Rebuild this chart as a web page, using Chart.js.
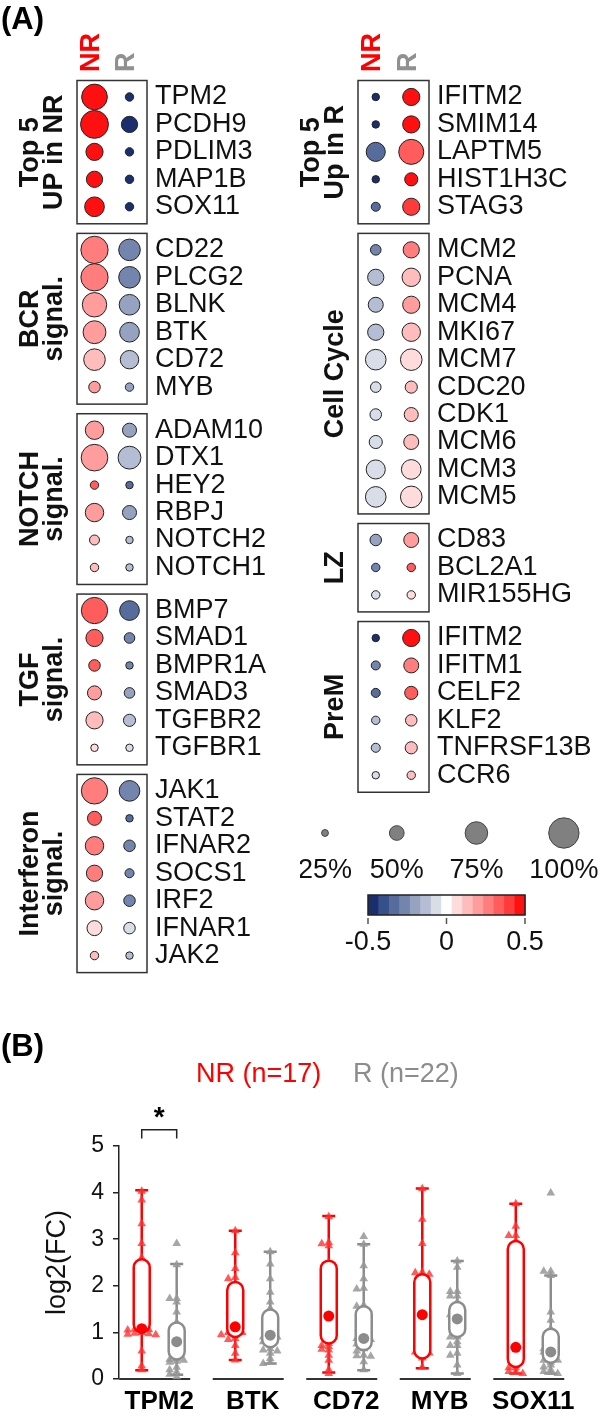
<!DOCTYPE html>
<html>
<head>
<meta charset="utf-8">
<script src="https://cdn.jsdelivr.net/npm/chart.js@4.4.0/dist/chart.umd.min.js"></script>
<style>
html, body { margin: 0; padding: 0; background: #fff; }
#page { position: relative; width: 604px; height: 1421px; overflow: hidden; background: #fff; }
canvas { position: absolute; }
</style>
</head>
<body>
<div id="page">
  <canvas id="dotLeft" width="300" height="990" style="left:0;top:0;width:300px;height:990px"></canvas>
  <canvas id="dotRight" width="304" height="990" style="left:300px;top:0;width:304px;height:990px"></canvas>
  <canvas id="boxChart" width="604" height="421" style="left:0;top:1000px;width:604px;height:421px"></canvas>
</div>
<script>
// ---- (A) dot plot data ----
const leftTitles = [['Top 5', 'UP in NR'], ['BCR', 'signal.'], ['NOTCH', 'signal.'], ['TGF', 'signal.'], ['Interferon', 'signal.']];
const leftGenes = [
  ['TPM2', 'PCDH9', 'PDLIM3', 'MAP1B', 'SOX11'],
  ['CD22', 'PLCG2', 'BLNK', 'BTK', 'CD72', 'MYB'],
  ['ADAM10', 'DTX1', 'HEY2', 'RBPJ', 'NOTCH2', 'NOTCH1'],
  ['BMP7', 'SMAD1', 'BMPR1A', 'SMAD3', 'TGFBR2', 'TGFBR1'],
  ['JAK1', 'STAT2', 'IFNAR2', 'SOCS1', 'IRF2', 'IFNAR1', 'JAK2']
];
const leftPctNR = [[85, 92, 58, 55, 66], [90, 90, 81, 76, 72, 40], [62, 88, 30, 62, 35, 30], [87, 58, 40, 48, 58, 27], [87, 48, 62, 55, 62, 51, 30]];
const leftPctR = [[30, 55, 30, 30, 30], [72, 72, 69, 66, 62, 30], [48, 76, 27, 48, 27, 27], [66, 37, 27, 37, 42, 27], [69, 27, 40, 32, 40, 40, 27]];
const leftFcNR = [[0.5, 0.5, 0.5, 0.5, 0.5], [0.27, 0.27, 0.2, 0.2, 0.14, 0.2], [0.2, 0.2, 0.36, 0.2, 0.13, 0.13], [0.36, 0.33, 0.36, 0.2, 0.14, 0.05], [0.27, 0.33, 0.27, 0.27, 0.2, 0.07, 0.14]];
const leftFcR = [[-0.5, -0.5, -0.5, -0.5, -0.5], [-0.27, -0.27, -0.2, -0.2, -0.14, -0.2], [-0.2, -0.14, -0.33, -0.2, -0.13, -0.13], [-0.33, -0.3, -0.3, -0.2, -0.14, -0.05], [-0.27, -0.33, -0.27, -0.3, -0.27, -0.07, -0.14]];

const rightTitles = [['Top 5', 'Up in R'], ['Cell Cycle'], ['LZ'], ['PreM']];
const rightGenes = [
  ['IFITM2', 'SMIM14', 'LAPTM5', 'HIST1H3C', 'STAG3'],
  ['MCM2', 'PCNA', 'MCM4', 'MKI67', 'MCM7', 'CDC20', 'CDK1', 'MCM6', 'MCM3', 'MCM5'],
  ['CD83', 'BCL2A1', 'MIR155HG'],
  ['IFITM2', 'IFITM1', 'CELF2', 'KLF2', 'TNFRSF13B', 'CCR6']
];
const rightPctNR = [[27, 27, 64, 27, 32], [37, 55, 51, 55, 69, 37, 40, 45, 64, 69], [40, 30, 30], [27, 32, 32, 30, 32, 27]];
const rightPctR = [[58, 58, 83, 45, 58], [55, 62, 58, 62, 72, 42, 48, 51, 66, 72], [51, 30, 30], [58, 51, 45, 40, 42, 30]];
const rightFcNR = [[-0.5, -0.5, -0.33, -0.5, -0.36], [-0.27, -0.14, -0.14, -0.14, -0.07, -0.07, -0.07, -0.07, -0.07, -0.07], [-0.2, -0.27, -0.05], [-0.5, -0.3, -0.33, -0.14, -0.14, -0.1]];
const rightFcR = [[0.5, 0.47, 0.33, 0.5, 0.4], [0.27, 0.14, 0.2, 0.14, 0.07, 0.1, 0.1, 0.1, 0.07, 0.07], [0.22, 0.3, 0.07], [0.5, 0.27, 0.33, 0.14, 0.14, 0.13]];

const sizeLegendPct = [25, 50, 75, 100];
const fcTicks = [-0.5, 0, 0.5];
const fcPalette = ['#1b2f6e', '#36508a', '#566c9c', '#7385ad', '#95a2c0', '#b4bdd3', '#d8dde8', '#ffffff',
                   '#ffdcdc', '#ffbcbc', '#ff9c9c', '#ff7d7d', '#ff5c5c', '#ff3a3a', '#ff1010'];

// ---- (B) box plot data ----
const boxGenes = ['TPM2', 'BTK', 'CD72', 'MYB', 'SOX11'];
const nrPoints = [
  [4.03, 3.84, 3.33, 2.91, 2.6, 1.08, 1.07, 1.06, 1.05, 1.0, 0.98, 0.97, 0.96, 0.95, 0.6, 0.28, 0.2],
  [3.18, 2.71, 2.37, 2.18, 2.15, 2.05, 1.12, 1.05, 1.0, 1.0, 0.98, 0.95, 0.87, 0.85, 0.72, 0.55, 0.41],
  [3.48, 2.93, 2.9, 2.86, 2.5, 1.8, 1.35, 1.0, 0.76, 0.72, 0.7, 0.64, 0.62, 0.51, 0.4, 0.2, 0.12],
  [4.08, 3.43, 2.91, 2.29, 2.28, 2.25, 1.9, 1.5, 1.38, 1.2, 1.0, 0.8, 0.6, 0.58, 0.56, 0.45, 0.25],
  [3.76, 3.28, 3.08, 3.08, 2.96, 2.5, 2.0, 1.5, 0.9, 0.68, 0.5, 0.3, 0.24, 0.24, 0.16, 0.16, 0.12]
];
const rPoints = [
  [2.91, 2.45, 1.73, 1.73, 1.65, 1.44, 1.22, 1.0, 0.87, 0.8, 0.72, 0.6, 0.44, 0.42, 0.4, 0.38, 0.36, 0.25, 0.2, 0.15, 0.1, 0.05],
  [2.73, 2.47, 2.15, 1.86, 1.65, 1.52, 1.45, 1.2, 1.0, 0.94, 0.9, 0.9, 0.85, 0.8, 0.75, 0.65, 0.62, 0.6, 0.55, 0.44, 0.36, 0.33],
  [3.06, 2.89, 2.43, 2.15, 1.95, 1.93, 1.58, 1.56, 1.3, 1.0, 0.87, 0.87, 0.85, 0.76, 0.75, 0.65, 0.6, 0.51, 0.5, 0.49, 0.37, 0.2],
  [2.53, 2.4, 1.88, 1.88, 1.78, 1.78, 1.65, 1.5, 1.38, 1.38, 1.29, 1.15, 1.0, 0.9, 0.9, 0.8, 0.72, 0.72, 0.55, 0.51, 0.3, 0.12],
  [3.99, 2.31, 2.31, 2.22, 1.44, 1.26, 1.08, 0.9, 0.7, 0.65, 0.6, 0.58, 0.45, 0.4, 0.4, 0.36, 0.3, 0.26, 0.2, 0.16, 0.14, 0.12]
];
const nrLow = [0.19, 0.41, 0.14, 0.23, 0.12];
const nrQ1 = [1.0, 0.9, 0.76, 0.44, 0.26];
const nrMed = [1.08, 1.12, 1.35, 1.38, 0.68];
const nrQ3 = [2.57, 2.08, 2.54, 2.25, 2.96];
const nrHigh = [4.05, 3.18, 3.5, 4.09, 3.76];
const rLow = [0.09, 0.33, 0.19, 0.12, 0.12];
const rQ1 = [0.42, 0.68, 0.62, 0.9, 0.35];
const rMed = [0.8, 0.94, 0.87, 1.29, 0.58];
const rQ3 = [1.21, 1.49, 1.56, 1.65, 1.08];
const rHigh = [2.47, 2.73, 2.89, 2.53, 2.22];
const yTicksB = [0, 1, 2, 3, 4, 5];

// ---- helpers ----
const FONT = '"Liberation Sans", Arial, Helvetica, sans-serif';
Chart.defaults.font.family = FONT;
Chart.defaults.animation = false;

const RED = '#ff0000';
const GREY = '#8c8c8c';

function fcColor(v) {
  const i = Math.min(14, Math.max(0, Math.floor((v + 0.5) * 15)));
  return fcPalette[i];
}
function pctRadius(p) { return p * 0.157 - 0.5; }

const GROUP_GAP = 0.57, BOX_TOP = 0.6, BOX_BOTTOM = 0.62;
function rowPositions(groups) {
  let u = 0;
  return groups.map((genes, gi) => {
    if (gi > 0) u += GROUP_GAP;
    return genes.map(() => u++);
  });
}

function makeDotPanel(canvasId, titles, genes, pctNR, pctR, fcNR, fcR, pad, extra) {
  const rows = rowPositions(genes);
  const yRows = rows.flat();
  const nrData = yRows.map((y, i) => ({ x: 0, y, r: pctRadius(pctNR.flat()[i]) }));
  const rData = yRows.map((y, i) => ({ x: 1, y, r: pctRadius(pctR.flat()[i]) }));

  const decor = {
    id: 'dotDecor',
    beforeDatasetsDraw(chart) {
      const { ctx, chartArea: a, scales: { y } } = chart;
      ctx.save();
      ctx.strokeStyle = '#333';
      ctx.lineWidth = 1.5;
      rows.forEach(r => {
        const top = y.getPixelForValue(r[0] - BOX_TOP);
        const bot = y.getPixelForValue(r[r.length - 1] + BOX_BOTTOM);
        ctx.strokeRect(a.left, top, a.right - a.left, bot - top);
      });
      ctx.restore();
    },
    afterDraw(chart) {
      const { ctx, chartArea: a, scales: { x, y } } = chart;
      ctx.save();
      // gene names
      ctx.font = `27px ${FONT}`;
      ctx.fillStyle = '#111';
      ctx.textAlign = 'left';
      ctx.textBaseline = 'middle';
      rows.forEach((r, gi) => r.forEach((u, k) => ctx.fillText(genes[gi][k], a.right + 8, y.getPixelForValue(u))));
      // group titles
      ctx.font = `bold 27px ${FONT}`;
      ctx.textAlign = 'center';
      ctx.textBaseline = 'alphabetic';
      titles.forEach((lines, gi) => {
        const r = rows[gi];
        const cy = (y.getPixelForValue(r[0] - BOX_TOP) + y.getPixelForValue(r[r.length - 1] + BOX_BOTTOM)) / 2;
        lines.forEach((line, li) => {
          const bx = a.left - 15 - (lines.length - 1 - li) * 24;
          ctx.save();
          ctx.translate(bx, cy);
          ctx.rotate(-Math.PI / 2);
          ctx.fillText(line, 0, 0);
          ctx.restore();
        });
      });
      // column headers
      ctx.textAlign = 'left';
      ctx.textBaseline = 'middle';
      [['NR', RED, 0], ['R', '#909090', 1]].forEach(([t, c, v]) => {
        ctx.save();
        ctx.translate(x.getPixelForValue(v) - 3, 72);
        ctx.rotate(-Math.PI / 2);
        ctx.fillStyle = c;
        ctx.fillText(t, 0, 0);
        ctx.restore();
      });
      ctx.restore();
      if (extra) extra(ctx, chart);
    }
  };

  return new Chart(document.getElementById(canvasId), {
    type: 'bubble',
    data: {
      datasets: [
        { data: nrData, backgroundColor: fcNR.flat().map(fcColor), borderColor: '#222', borderWidth: 1, clip: false },
        { data: rData, backgroundColor: fcR.flat().map(fcColor), borderColor: '#222', borderWidth: 1, clip: false }
      ]
    },
    options: {
      responsive: false,
      devicePixelRatio: 1,
      animation: false,
      events: [],
      layout: { padding: pad },
      plugins: { legend: { display: false }, tooltip: { enabled: false } },
      scales: {
        x: { type: 'linear', display: false, min: -0.5, max: 1.5 },
        y: { type: 'linear', display: false, reverse: true, min: -0.6, max: 31.9 }
      }
    },
    plugins: [decor]
  });
}

// left column (with panel tag)
makeDotPanel('dotLeft', leftTitles, leftGenes, leftPctNR, leftPctR, leftFcNR, leftFcR,
  { left: 77, right: 153, top: 80.5, bottom: 17.4 },
  (ctx) => {
    ctx.save();
    ctx.font = `bold 31px ${FONT}`;
    ctx.fillStyle = '#000';
    ctx.textAlign = 'left';
    ctx.textBaseline = 'alphabetic';
    ctx.fillText('(A)', 1, 29);
    ctx.restore();
  });

// right column (with size legend + colour bar)
makeDotPanel('dotRight', rightTitles, rightGenes, rightPctNR, rightPctR, rightFcNR, rightFcR,
  { left: 58, right: 175, top: 80.5, bottom: 17.4 },
  (ctx) => {
    ctx.save();
    // size legend
    let cx = 25, prevR = 0;
    ctx.font = `27px ${FONT}`;
    ctx.textAlign = 'center';
    ctx.textBaseline = 'alphabetic';
    sizeLegendPct.forEach((p, i) => {
      const r = pctRadius(p);
      if (i > 0) cx += prevR + 61 + r;
      prevR = r;
      ctx.beginPath();
      ctx.arc(cx, 833, r, 0, Math.PI * 2);
      ctx.fillStyle = '#808080';
      ctx.fill();
      ctx.strokeStyle = '#444';
      ctx.lineWidth = 1;
      ctx.stroke();
      ctx.fillStyle = '#111';
      ctx.fillText(p + '%', cx, 878);
    });
    // colour bar
    const L = 68, R = 225, T = 895, B = 915;
    const w = (R - L) / fcPalette.length;
    fcPalette.forEach((c, i) => {
      ctx.fillStyle = c;
      ctx.fillRect(L + i * w, T, w + 0.5, B - T);
    });
    ctx.strokeStyle = '#222';
    ctx.lineWidth = 1.5;
    ctx.strokeRect(L, T, R - L, B - T);
    ctx.strokeStyle = '#555';
    ctx.fillStyle = '#111';
    fcTicks.forEach(v => {
      const tx = L + (v + 0.5) * (R - L);
      ctx.beginPath();
      ctx.moveTo(tx, B + 3);
      ctx.lineTo(tx, B + 9);
      ctx.stroke();
      ctx.fillText(String(v), tx, 950);
    });
    ctx.restore();
  });

// ---- (B) box plot ----
const CAT_OFFSET = 0.187;
const JITTER = 0.075;
function swarm(values, center) {
  const placed = [];
  const slots = [0, -1, 1, -2, 2, -3, 3, -4, 4];
  return values.map(v => {
    const near = placed.filter(p => Math.abs(p.v - v) < 0.06).map(p => p.s);
    const s = slots.find(k => !near.includes(k));
    placed.push({ v, s });
    return { x: center + s * JITTER, y: v };
  });
}

const sides = {
  nr: { off: -CAT_OFFSET, color: RED, low: nrLow, q1: nrQ1, q3: nrQ3, high: nrHigh },
  r: { off: CAT_OFFSET, color: GREY, low: rLow, q1: rQ1, q3: rQ3, high: rHigh }
};

const boxDecor = {
  id: 'boxDecor',
  beforeDatasetsDraw(chart) {
    const { ctx, chartArea: a, scales: { x, y } } = chart;
    ctx.save();
    // per-gene baseline segments
    ctx.strokeStyle = '#333';
    ctx.lineWidth = 2;
    boxGenes.forEach((g, i) => {
      const c = x.getPixelForValue(i);
      ctx.beginPath();
      ctx.moveTo(Math.max(a.left, c - 40), a.bottom);
      ctx.lineTo(c + 31, a.bottom);
      ctx.stroke();
    });
    // whiskers
    ctx.lineWidth = 2.5;
    Object.values(sides).forEach(s => {
      ctx.strokeStyle = s.color;
      boxGenes.forEach((g, i) => {
        const cx = x.getPixelForValue(i + s.off);
        const yl = y.getPixelForValue(s.low[i]);
        const yh = y.getPixelForValue(s.high[i]);
        ctx.beginPath();
        ctx.moveTo(cx, yl); ctx.lineTo(cx, yh);
        ctx.moveTo(cx - 6.5, yl); ctx.lineTo(cx + 6.5, yl);
        ctx.moveTo(cx - 6.5, yh); ctx.lineTo(cx + 6.5, yh);
        ctx.stroke();
      });
    });
    ctx.restore();
  },
  beforeDatasetDraw(chart, args) {
    const ds = chart.data.datasets[args.index];
    if (!ds.boxSide) return;
    const s = sides[ds.boxSide];
    const { ctx, scales: { x, y } } = chart;
    ctx.save();
    ctx.lineWidth = 2.5;
    ctx.strokeStyle = s.color;
    ctx.fillStyle = '#fff';
    boxGenes.forEach((g, i) => {
      const cx = x.getPixelForValue(i + s.off);
      const top = y.getPixelForValue(s.q3[i]);
      const bot = y.getPixelForValue(s.q1[i]);
      const h = bot - top;
      ctx.beginPath();
      ctx.roundRect(cx - 8, top, 16, h, Math.min(8, h / 2));
      ctx.fill();
      ctx.stroke();
    });
    ctx.restore();
  },
  afterDraw(chart) {
    const { ctx, scales: { x, y } } = chart;
    ctx.save();
    ctx.fillStyle = '#000';
    ctx.textBaseline = 'alphabetic';
    ctx.textAlign = 'left';
    ctx.font = `bold 31px ${FONT}`;
    ctx.fillText('(B)', 1, 56);
    ctx.font = `27px ${FONT}`;
    ctx.fillStyle = RED;
    ctx.fillText('NR (n=17)', 196, 82);
    ctx.fillStyle = GREY;
    ctx.fillText('R (n=22)', 353, 82);
    // significance bracket on the first gene
    const x1 = x.getPixelForValue(0 - CAT_OFFSET);
    const x2 = x.getPixelForValue(0 + CAT_OFFSET);
    const yt = y.getPixelForValue(5.35);
    const yb = y.getPixelForValue(5.16);
    ctx.strokeStyle = '#222';
    ctx.lineWidth = 1.5;
    ctx.beginPath();
    ctx.moveTo(x1, yb); ctx.lineTo(x1, yt); ctx.lineTo(x2, yt); ctx.lineTo(x2, yb);
    ctx.stroke();
    ctx.fillStyle = '#000';
    ctx.textAlign = 'center';
    ctx.font = `bold 28px ${FONT}`;
    ctx.fillText('*', (x1 + x2) / 2, y.getPixelForValue(5.75) + 15);
    ctx.restore();
  }
};

new Chart(document.getElementById('boxChart'), {
  type: 'scatter',
  data: {
    datasets: [
      {
        data: boxGenes.flatMap((g, i) => swarm(nrPoints[i], i - CAT_OFFSET)),
        pointStyle: 'triangle', pointRadius: 5, backgroundColor: 'rgba(255,50,50,0.8)', borderWidth: 0, order: 3, clip: false
      },
      {
        data: boxGenes.flatMap((g, i) => swarm(rPoints[i], i + CAT_OFFSET)),
        pointStyle: 'triangle', pointRadius: 5, backgroundColor: 'rgba(150,150,150,0.85)', borderWidth: 0, order: 3, clip: false
      },
      {
        boxSide: 'nr',
        data: boxGenes.map((g, i) => ({ x: i - CAT_OFFSET, y: nrMed[i] })),
        pointStyle: 'circle', pointRadius: 5.5, backgroundColor: RED, borderWidth: 0, order: 2, clip: false
      },
      {
        boxSide: 'r',
        data: boxGenes.map((g, i) => ({ x: i + CAT_OFFSET, y: rMed[i] })),
        pointStyle: 'circle', pointRadius: 5.5, backgroundColor: GREY, borderWidth: 0, order: 1, clip: false
      }
    ]
  },
  options: {
    responsive: false,
    devicePixelRatio: 1,
    animation: false,
    events: [],
    layout: { padding: { left: 0, right: 38, top: 146, bottom: 0 } },
    plugins: { legend: { display: false }, tooltip: { enabled: false } },
    scales: {
      x: {
        type: 'linear', min: -0.43, max: 4.35,
        afterBuildTicks: s => { s.ticks = boxGenes.map((g, i) => ({ value: i })); },
        afterFit: s => { s.height = 42; },
        ticks: { callback: v => boxGenes[v], font: { size: 26, weight: 'bold' }, color: '#000', padding: 7, maxRotation: 0, autoSkip: false },
        grid: { display: false, drawTicks: false },
        border: { display: false }
      },
      y: {
        type: 'linear', min: 0, max: 5,
        afterBuildTicks: s => { s.ticks = yTicksB.map(v => ({ value: v })); },
        afterFit: s => { s.width = 119; },
        ticks: { font: { size: 23 }, color: '#111', padding: 9 },
        grid: { drawOnChartArea: false, drawTicks: true, tickLength: 6, color: '#222', lineWidth: 1.5 },
        border: { display: true, color: '#222', width: 1.5 },
        title: { display: true, text: 'log2(FC)', font: { size: 27 }, color: '#111', padding: { top: 41, bottom: 0 } }
      }
    }
  },
  plugins: [boxDecor]
});
</script>
</body>
</html>
